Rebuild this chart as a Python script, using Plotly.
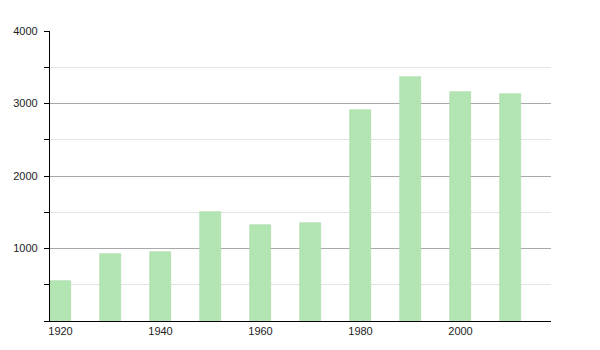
import plotly.graph_objects as go

years = [1920, 1930, 1940, 1950, 1960, 1970, 1980, 1990, 2000, 2010]
population = [555, 920, 950, 1500, 1320, 1350, 2905, 3365, 3155, 3125]
x_ticks = [1920, 1940, 1960, 1980, 2000]
y_ticks = [0, 1000, 2000, 3000, 4000]
y_tick_text = ["", "1000", "2000", "3000", "4000"]
y_minor = [500, 1500, 2500, 3500]

fig = go.Figure()
fig.add_trace(go.Bar(
    x=years, y=population, width=4.2,
    marker=dict(color="#b2e5b2", line=dict(color="#a8d8a8", width=0.6)),
))

fig.update_layout(
    width=600, height=350,
    margin=dict(l=50, r=49, t=31, b=29),
    plot_bgcolor="white", paper_bgcolor="white",
    showlegend=False,
    font=dict(family="Liberation Sans, Arial, sans-serif", size=11, color="#222"),
    bargap=0,
)
fig.update_xaxes(
    range=[1917.9, 2018.1],
    tickmode="array", tickvals=x_ticks,
    showgrid=False, zeroline=False,
    showline=True, linecolor="black", linewidth=1.2,
    ticks="", ticklen=0,
)
fig.update_yaxes(
    range=[0, 4000],
    tickmode="array", tickvals=y_ticks, ticktext=y_tick_text,
    showgrid=True, gridcolor="#a8a8a8", gridwidth=1,
    zeroline=False,
    showline=True, linecolor="black", linewidth=1.2,
    ticks="outside", ticklen=5, tickcolor="black",
    ticklabelstandoff=4,
    minor=dict(tickmode="array", tickvals=y_minor, ticks="outside", ticklen=5,
               tickcolor="black", showgrid=True, gridcolor="#e4e4e4", gridwidth=1),
)

fig.write_html("out.html")
